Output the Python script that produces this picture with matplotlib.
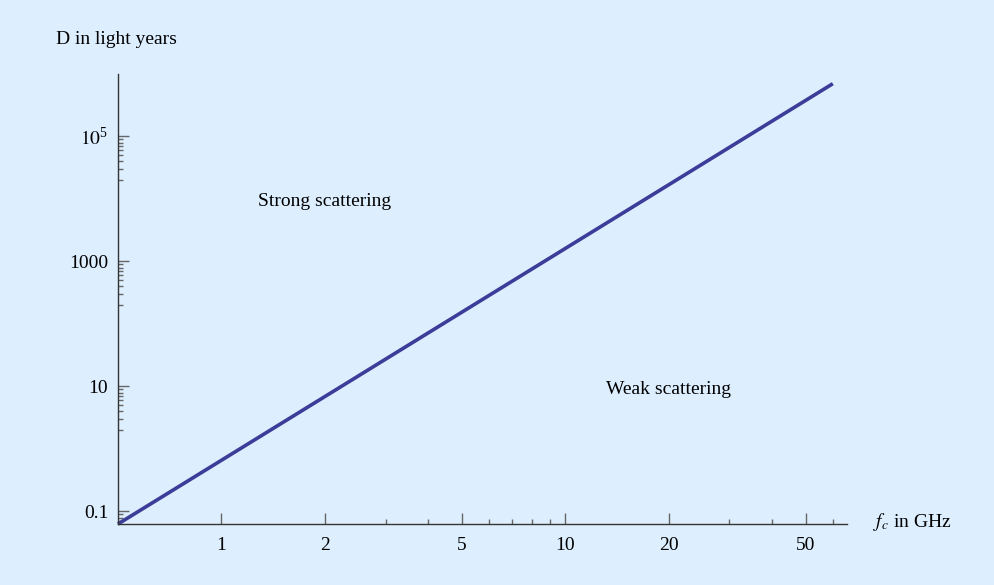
import numpy as np
import matplotlib
matplotlib.use("Agg")
from matplotlib import pyplot as plt
from matplotlib.ticker import FixedLocator, FixedFormatter, NullFormatter

plt.rcParams['font.family'] = ['Liberation Serif', 'DejaVu Serif']
plt.rcParams['mathtext.fontset'] = 'stix'

# line end points (log-log straight line)
f_ghz = [0.5, 60.0]
d_ly = [0.063, 7.0e5]

x_major = [1, 2, 5, 10, 20, 50]
x_major_labels = ['1', '2', '5', '10', '20', '50']
x_minor = [3, 4, 6, 7, 8, 9, 30, 40, 60]

y_major = [0.1, 10, 1000, 1e5]
y_major_labels = ['0.1', '10', '1000', r'$10^{\mathdefault{5}}$']
y_minor = [k * 10.0 ** (e - 1) for e in (-1, 1, 3, 5) for k in range(2, 10)]

bg = '#ddeeff'
fig = plt.figure(figsize=(9.95, 5.85), dpi=100, facecolor=bg)
ax = fig.add_axes([0.1186, 0.1043, 0.7327, 0.7692])
ax.set_facecolor(bg)

ax.plot(f_ghz, d_ly, color='#3c3c99', lw=2.6, solid_capstyle='butt', clip_on=False)

ax.set_xscale('log')
ax.set_yscale('log')
ax.set_xlim(0.5, 66)
ax.set_ylim(d_ly[0], 1e6)

ax.xaxis.set_major_locator(FixedLocator(x_major))
ax.xaxis.set_major_formatter(FixedFormatter(x_major_labels))
ax.xaxis.set_minor_locator(FixedLocator(x_minor))
ax.xaxis.set_minor_formatter(NullFormatter())
ax.yaxis.set_major_locator(FixedLocator(y_major))
ax.yaxis.set_major_formatter(FixedFormatter(y_major_labels))
ax.yaxis.set_minor_locator(FixedLocator(y_minor))
ax.yaxis.set_minor_formatter(NullFormatter())

ax.tick_params(which='both', direction='in', color='#666666', width=1, labelsize=14)
ax.tick_params(which='major', length=8)
ax.tick_params(which='minor', length=3.5)
ax.tick_params(axis='x', which='major', pad=9.5)
ax.tick_params(axis='y', which='major', pad=7)

for s in ('top', 'right'):
    ax.spines[s].set_visible(False)
for s in ('left', 'bottom'):
    ax.spines[s].set_color('#333333')
    ax.spines[s].set_linewidth(1)

ax.text(2.0, 9e3, 'Strong scattering', fontsize=14, ha='center', va='center')
ax.text(20, 9, 'Weak scattering', fontsize=14, ha='center', va='center')

fig.text(56 / 995, 1 - 39 / 585, 'D in light years', fontsize=14, ha='left', va='center')
fig.text(873 / 995, 1 - 522 / 585, r'$f_c$ in GHz', fontsize=14, ha='left', va='center')

plt.savefig('out.png', dpi=100, facecolor=bg)
